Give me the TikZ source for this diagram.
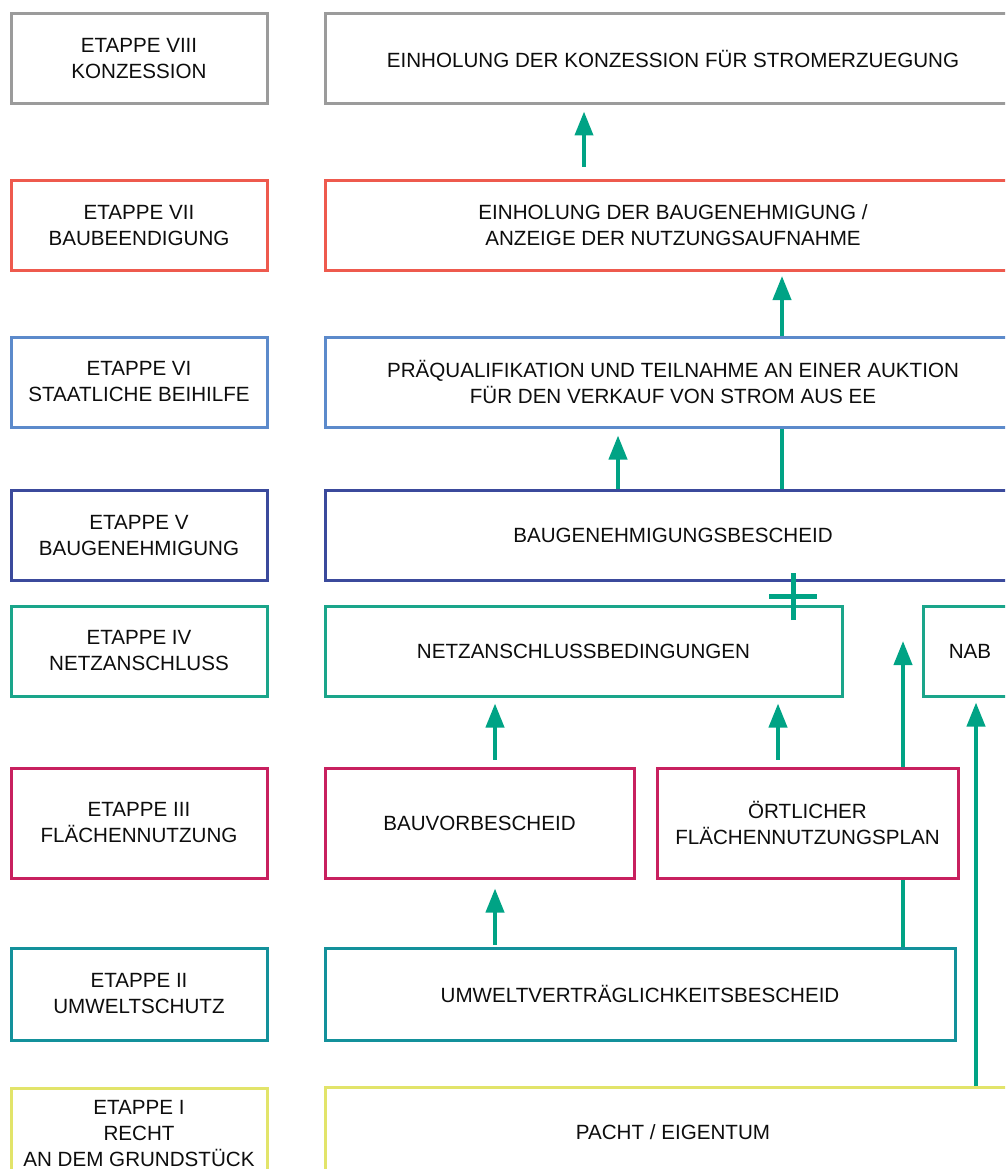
\documentclass[tikz,border=0pt]{standalone}
\usepackage{fontspec}
\setmainfont{Liberation Sans}
\usepackage{tikz}
\usetikzlibrary{arrows.meta}

\definecolor{grau}{HTML}{9B9B9B}
\definecolor{rot}{HTML}{EE5A4E}
\definecolor{hellblau}{HTML}{5C8ACB}
\definecolor{dunkelblau}{HTML}{3B4A9C}
\definecolor{netzgruen}{HTML}{1AA58A}
\definecolor{magenta}{HTML}{C8205F}
\definecolor{petrol}{HTML}{13919B}
\definecolor{gelb}{HTML}{E2E46A}
\definecolor{pfeilgruen}{HTML}{00A385}

\begin{document}
\begin{tikzpicture}[
  x = 1pt, y = -1pt,
  every node/.style = {font = \fontsize{20.6}{26}\selectfont, align = center, text = black!95},
  box/.style = {draw, line width = 3pt, minimum height = 90pt, inner sep = 0pt},
  stage/.style = {box, minimum width = 256pt},
  wide/.style = {box, minimum width = 696pt},
  pfeil/.style = {draw = pfeilgruen, line width = 4pt, -{Triangle[width = 18pt, length = 24pt]}},
  linie/.style = {draw = pfeilgruen, line width = 4pt}
]

\path[use as bounding box, clip] (0,0) rectangle (1005,1169);

% etappen links
\node[stage, draw = grau] (e8) at (139,59) {ETAPPE VIII\\KONZESSION};
\node[stage, draw = rot] (e7) at (139,225.5) {ETAPPE VII\\BAUBEENDIGUNG};
\node[stage, draw = hellblau] (e6) at (139,382) {ETAPPE VI\\STAATLICHE BEIHILFE};
\node[stage, draw = dunkelblau] (e5) at (139,535.5) {ETAPPE V\\BAUGENEHMIGUNG};
\node[stage, draw = netzgruen] (e4) at (139,651) {ETAPPE IV\\NETZANSCHLUSS};
\node[stage, draw = magenta, minimum height = 110pt] (e3) at (139,823) {ETAPPE III\\FLÄCHENNUTZUNG};
\node[stage, draw = petrol, minimum height = 92pt] (e2) at (139,994) {ETAPPE II\\UMWELTSCHUTZ};
\node[stage, draw = gelb] (e1) at (139,1133) {ETAPPE I\\RECHT\\AN DEM GRUNDSTÜCK};

% schritte rechts
\node[wide, draw = grau] (s8) at (673,59) {EINHOLUNG DER KONZESSION FÜR STROMERZUEGUNG};
\node[wide, draw = rot] (s7) at (673,225.5) {EINHOLUNG DER BAUGENEHMIGUNG /\\ANZEIGE DER NUTZUNGSAUFNAHME};
\node[wide, draw = hellblau] (s6) at (673,382) {PRÄQUALIFIKATION UND TEILNAHME AN EINER AUKTION\\FÜR DEN VERKAUF VON STROM AUS EE};
\node[wide, draw = dunkelblau] (s5) at (673,535.5) {BAUGENEHMIGUNGSBESCHEID};
\node[box, draw = netzgruen, minimum width = 517pt] (nab1) at (583.5,651) {NETZANSCHLUSSBEDINGUNGEN};
\node[box, draw = netzgruen, minimum width = 94pt] (nab2) at (970,651) {NAB};
\node[box, draw = magenta, minimum width = 309pt, minimum height = 110pt] (bvb) at (479.5,823) {BAUVORBESCHEID};
\node[box, draw = magenta, minimum width = 301pt, minimum height = 110pt] (fnp) at (807.5,823) {ÖRTLICHER\\FLÄCHENNUTZUNGSPLAN};
\node[box, draw = petrol, minimum width = 630pt, minimum height = 92pt] (uvb) at (640,994) {UMWELTVERTRÄGLICHKEITSBESCHEID};
\node[wide, draw = gelb] (pacht) at (673,1132) {PACHT / EIGENTUM};

% spalten der pfeile
\coordinate (xa) at (495,0);
\coordinate (xb) at (584,0);
\coordinate (xc) at (618,0);
\coordinate (xd) at (778,0);
\coordinate (xe) at (782,0);
\coordinate (xf) at (903,0);
\coordinate (xg) at (976,0);
\coordinate (fnpziel) at (903,641);
\coordinate (kreuz) at (793,596);

\draw[pfeil, shorten <= 12pt, shorten >= 6pt] (s7.north -| xb) -- (s8.south -| xb);
\draw[pfeil, shorten >= 4pt] (s6.north -| xe) -- (s7.south -| xe);
\draw[pfeil, shorten >= 7pt] (s5.north -| xc) -- (s6.south -| xc);
\draw[linie] (s5.north -| xe) -- (s6.south -| xe);
\draw[pfeilgruen, line width = 5pt] ([yshift = -24pt]kreuz) -- ([yshift = 23pt]kreuz)
  ([xshift = -24pt]kreuz) -- ([xshift = 24pt]kreuz);
\draw[pfeil, shorten <= 7pt, shorten >= 6pt] (bvb.north -| xa) -- (nab1.south -| xa);
\draw[pfeil, shorten <= 7pt, shorten >= 6pt] (fnp.north -| xd) -- (nab1.south -| xd);
\draw[pfeil] (fnp.north -| xf) -- (fnpziel);
\draw[pfeil, shorten >= 5pt] (pacht.north -| xg) -- (nab2.south -| xg);
\draw[linie] (uvb.north -| xf) -- (fnp.south -| xf);
\draw[pfeil, shorten <= 2pt, shorten >= 9pt] (uvb.north -| xa) -- (bvb.south -| xa);

\end{tikzpicture}
\end{document}
